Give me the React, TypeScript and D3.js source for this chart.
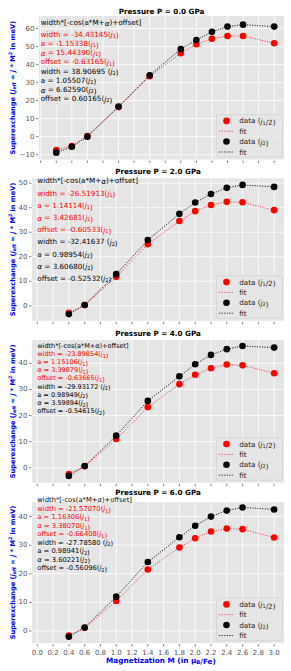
import React from "react";
import * as d3 from "d3";

// ---------- DATA ----------
const pressureLabels = ["0.0", "2.0", "4.0", "6.0"];
const mP0 = [0.2, 0.4, 0.6, 1.0, 1.4, 1.8, 2.0, 2.2, 2.4, 2.6, 3.0];
const mP = [0.4, 0.6, 1.0, 1.4, 1.8, 2.0, 2.2, 2.4, 2.6, 3.0];

const j1P0 = [-7.4, -5.2, 0.3, 16.4, 33.5, 46.3, 51.3, 54.4, 55.9, 55.9, 51.9];
const j2P0 = [-8.9, -5.6, 0.0, 16.7, 34.1, 48.6, 53.7, 58.2, 61.1, 62.2, 61.1];
const j1P2 = [-2.9, 0.3, 11.8, 25.1, 34.6, 38.6, 41.1, 42.4, 42.2, 39.0];
const j2P2 = [-3.4, 0.3, 12.9, 26.8, 37.5, 42.1, 45.6, 48.1, 49.3, 48.5];
const j1P4 = [-2.4, 0.6, 11.0, 23.2, 32.0, 35.6, 38.1, 39.5, 39.2, 36.2];
const j2P4 = [-3.1, 0.65, 12.3, 25.6, 35.0, 39.6, 43.2, 45.4, 46.6, 46.0];
const j1P6 = [-1.6, 1.1, 10.5, 21.5, 29.2, 32.4, 34.8, 35.8, 35.6, 32.7];
const j2P6 = [-2.0, 1.2, 12.0, 24.1, 32.8, 36.8, 40.0, 42.1, 43.2, 42.5];

const widthJ1 = ["-34.43145", "-26.51913", "-23.89854", "-21.57070"];
const aJ1 = ["-1.15338", "1.14114", "1.15106", "1.16306"];
const alphaJ1 = ["15.44390", "3.42681", "3.39879", "3.38070"];
const offsetJ1 = ["-0.63165", "-0.60533", "-0.63665", "-0.66408"];
const widthJ2 = ["38.90695", "-32.41637", "-29.93172", "-27.78580"];
const aJ2 = ["1.05507", "0.98954", "0.98949", "0.98941"];
const alphaJ2 = ["6.62590", "3.60680", "3.59894", "3.60221"];
const offsetJ2 = ["0.60165", "-0.52532", "-0.54615", "-0.56096"];

const xTicks = [0, 0.2, 0.4, 0.6, 0.8, 1.0, 1.2, 1.4, 1.6, 1.8, 2.0, 2.2, 2.4, 2.6, 2.8, 3.0];
const yTicksP0 = [-10, 0, 10, 20, 30, 40, 50, 60];
const yTicksP2 = [0, 10, 20, 30, 40, 50];
const yTicksP4 = [0, 10, 20, 30, 40];
const yTicksP6 = [0, 10, 20, 30, 40];

const seriesM = [mP0, mP, mP, mP];
const seriesJ1 = [j1P0, j1P2, j1P4, j1P6];
const seriesJ2 = [j2P0, j2P2, j2P4, j2P6];
const seriesYTicks = [yTicksP0, yTicksP2, yTicksP4, yTicksP6];

// ---------- LAYOUT ----------
const W = 291;
const H = 671;
const FONT = "DejaVu Sans";
const BG = "#E5E5E5";
const RED = "#FF0000";
const BLUE = "#0000FF";

const layouts = [
  { left: 39, right: 284, top: 16, bottom: 159.5, xDom: [-0.022, 3.126], yDom: [-12.7, 67], titleY: 11.7, head: 22.7, start: 34.3, step: 9.2 },
  { left: 32, right: 284, top: 178.3, bottom: 320.7, xDom: [-0.067, 3.125], yDom: [-6.1, 52], titleY: 171, head: 180.7, start: 193.3, step: 12.15 },
  { left: 32, right: 284, top: 340, bottom: 482.7, xDom: [-0.067, 3.125], yDom: [-5.7, 48.9], titleY: 333.3, head: 345.7, start: 354, step: 8.15 },
  { left: 32, right: 284, top: 502, bottom: 643, xDom: [-0.067, 3.125], yDom: [-4.2, 45.1], titleY: 492.7, head: 500, start: 509, step: 8.47 },
];

const JSub = ({ n }: { n: string }) => (
  <>
    <tspan fontStyle="italic">j</tspan>
    <tspan dy={1.6} fontSize={5}>{n}</tspan>
    <tspan dy={-1.6}></tspan>
  </>
);

function Panel({ idx }: { idx: number }) {
  const L = layouts[idx];
  const x = d3.scaleLinear().domain(L.xDom).range([L.left, L.right]);
  const y = d3.scaleLinear().domain(L.yDom).range([L.bottom, L.top]);
  const M = seriesM[idx];
  const j1 = seriesJ1[idx];
  const j2 = seriesJ2[idx];
  const yTicks = seriesYTicks[idx];
  const line = d3
    .line<number>()
    .x((_, i) => x(M[i]))
    .y((d) => y(d));
  const fs = 7.2;
  const annFs = Math.min(7.2, L.step * 0.8);
  const lines: { color: string; content: React.ReactNode }[] = [
    { color: RED, content: <>width = {widthJ1[idx]}(<JSub n="1" />)</> },
    { color: RED, content: <>a = {aJ1[idx]}(<JSub n="1" />)</> },
    { color: RED, content: <><tspan fontStyle="italic">α</tspan> = {alphaJ1[idx]}(<JSub n="1" />)</> },
    { color: RED, content: <>offset = {offsetJ1[idx]}(<JSub n="1" />)</> },
    { color: "#000", content: <>width = {widthJ2[idx]} (<JSub n="2" />)</> },
    { color: "#000", content: <>a = {aJ2[idx]}(<JSub n="2" />)</> },
    { color: "#000", content: <><tspan fontStyle="italic">α</tspan> = {alphaJ2[idx]}(<JSub n="2" />)</> },
    { color: "#000", content: <>offset = {offsetJ2[idx]}(<JSub n="2" />)</> },
  ];
  const tx = x(0);
  // legend
  const lbW = 66;
  const lbH = 42.5;
  const lbX = L.right - 1.5 - lbW;
  const lbY = L.bottom - 2.5 - lbH;
  const rows = [6.4, 16.7, 27, 37.5];
  const midY = (L.top + L.bottom) / 2;
  return (
    <g>
      <rect x={L.left} y={L.top} width={L.right - L.left} height={L.bottom - L.top} fill={BG} />
      {xTicks.map((t) => (
        <line key={"gx" + t} x1={x(t)} x2={x(t)} y1={L.top} y2={L.bottom} stroke="#fff" strokeWidth={0.8} />
      ))}
      {yTicks.map((t) => (
        <line key={"gy" + t} x1={L.left} x2={L.right} y1={y(t)} y2={y(t)} stroke="#fff" strokeWidth={0.8} />
      ))}
      {xTicks.map((t) => (
        <line key={"tx" + t} x1={x(t)} x2={x(t)} y1={L.bottom + 1} y2={L.bottom + 3.5} stroke="#555" strokeWidth={0.7} />
      ))}
      {yTicks.map((t) => (
        <g key={"ty" + t}>
          <line x1={L.left - 3} x2={L.left - 0.5} y1={y(t)} y2={y(t)} stroke="#555" strokeWidth={0.7} />
          <text x={L.left - 4.5} y={y(t)} dominantBaseline="central" textAnchor="end" fontSize={7} fill="#555" fontFamily={FONT}>
            {t < 0 ? "\u2212" + Math.abs(t) : t}
          </text>
        </g>
      ))}
      {idx === 3 &&
        xTicks.map((t) => (
          <text key={"xl" + t} x={x(t)} y={L.bottom + 9.7} dominantBaseline="central" textAnchor="middle" fontSize={7} fill="#555" fontFamily={FONT}>
            {t.toFixed(1)}
          </text>
        ))}
      {/* title */}
      <text x={(L.left + L.right) / 2} y={L.titleY} dominantBaseline="central" textAnchor="middle" fontSize={7.2} fontWeight="bold" fontFamily={FONT} fill="#000">
        Pressure P = {pressureLabels[idx]} GPa
      </text>
      {/* y label */}
      <text
        transform={`translate(12.5,${midY}) rotate(-90)`}
        textAnchor="middle"
        dominantBaseline="central"
        fontSize={6.6}
        fontWeight="bold"
        fill={BLUE}
        fontFamily={FONT}
      >
        Superexchange (<tspan fontStyle="italic">j</tspan>
        <tspan dy={1.5} fontSize={4.8}>eff</tspan>
        <tspan dy={-1.5}> = </tspan>
        <tspan fontStyle="italic">j</tspan> * M<tspan dy={-2.5} fontSize={4.8}>2</tspan>
        <tspan dy={2.5}> in meV)</tspan>
      </text>
      {/* series */}
      {j1.map((v, i) => (
        <circle key={"r" + i} cx={x(M[i])} cy={y(v)} r={3.3} fill={RED} />
      ))}
      <path d={line(j1) || ""} fill="none" stroke={RED} strokeOpacity={0.8} strokeWidth={0.9} strokeDasharray="1.1,1.4" />
      {j2.map((v, i) => (
        <circle key={"b" + i} cx={x(M[i])} cy={y(v)} r={3.3} fill="#000" />
      ))}
      <path d={line(j2) || ""} fill="none" stroke="#000" strokeWidth={0.9} strokeDasharray="1.1,1.4" />
      {/* annotations */}
      <text x={tx} y={L.head} dominantBaseline="central" fontSize={annFs} fontFamily={FONT} fill="#000">
        width*[-cos(a*M+<tspan fontStyle="italic">α</tspan>)+offset]
      </text>
      {lines.map((ln, i) => (
        <text key={"ann" + i} x={tx} y={L.start + i * L.step} dominantBaseline="central" fontSize={annFs} fontFamily={FONT} fill={ln.color}>
          {ln.content}
        </text>
      ))}
      {/* legend */}
      <rect x={lbX} y={lbY} width={lbW} height={lbH} rx={2} fill={BG} fillOpacity={0.85} stroke="#ccc" strokeWidth={0.6} />
      <circle cx={lbX + 10} cy={lbY + rows[0]} r={3.3} fill={RED} />
      <line x1={lbX + 2.7} x2={lbX + 17.7} y1={lbY + rows[1]} y2={lbY + rows[1]} stroke={RED} strokeOpacity={0.8} strokeWidth={0.9} strokeDasharray="1.1,1.4" />
      <circle cx={lbX + 10} cy={lbY + rows[2]} r={3.3} fill="#000" />
      <line x1={lbX + 2.7} x2={lbX + 17.7} y1={lbY + rows[3]} y2={lbY + rows[3]} stroke="#000" strokeWidth={0.9} strokeDasharray="1.1,1.4" />
      <text x={lbX + 22.7} y={lbY + rows[0]} dominantBaseline="central" fontSize={fs} fontFamily={FONT} fill="#222">
        data (<JSub n="1" />/2)
      </text>
      <text x={lbX + 22.7} y={lbY + rows[1]} dominantBaseline="central" fontSize={fs} fontFamily={FONT} fill="#222">
        fit
      </text>
      <text x={lbX + 22.7} y={lbY + rows[2]} dominantBaseline="central" fontSize={fs} fontFamily={FONT} fill="#222">
        data (<JSub n="2" />)
      </text>
      <text x={lbX + 22.7} y={lbY + rows[3]} dominantBaseline="central" fontSize={fs} fontFamily={FONT} fill="#222">
        fit
      </text>
    </g>
  );
}

export default function App() {
  return (
    <svg width={W} height={H} style={{ position: "absolute", left: 0, top: 0, background: "#fff" }}>
      <rect x={0} y={0} width={W} height={H} fill="#fff" />
      {[0, 1, 2, 3].map((i) => (
        <Panel key={i} idx={i} />
      ))}
      <text x={161} y={660.7} textAnchor="middle" dominantBaseline="central" fontSize={7.3} fontWeight="bold" fill={BLUE} fontFamily={FONT}>
        Magnetization M (in μ<tspan dy={1.5} fontSize={5.2}>B</tspan>
        <tspan dy={-1.5}>/Fe)</tspan>
      </text>
    </svg>
  );
}
